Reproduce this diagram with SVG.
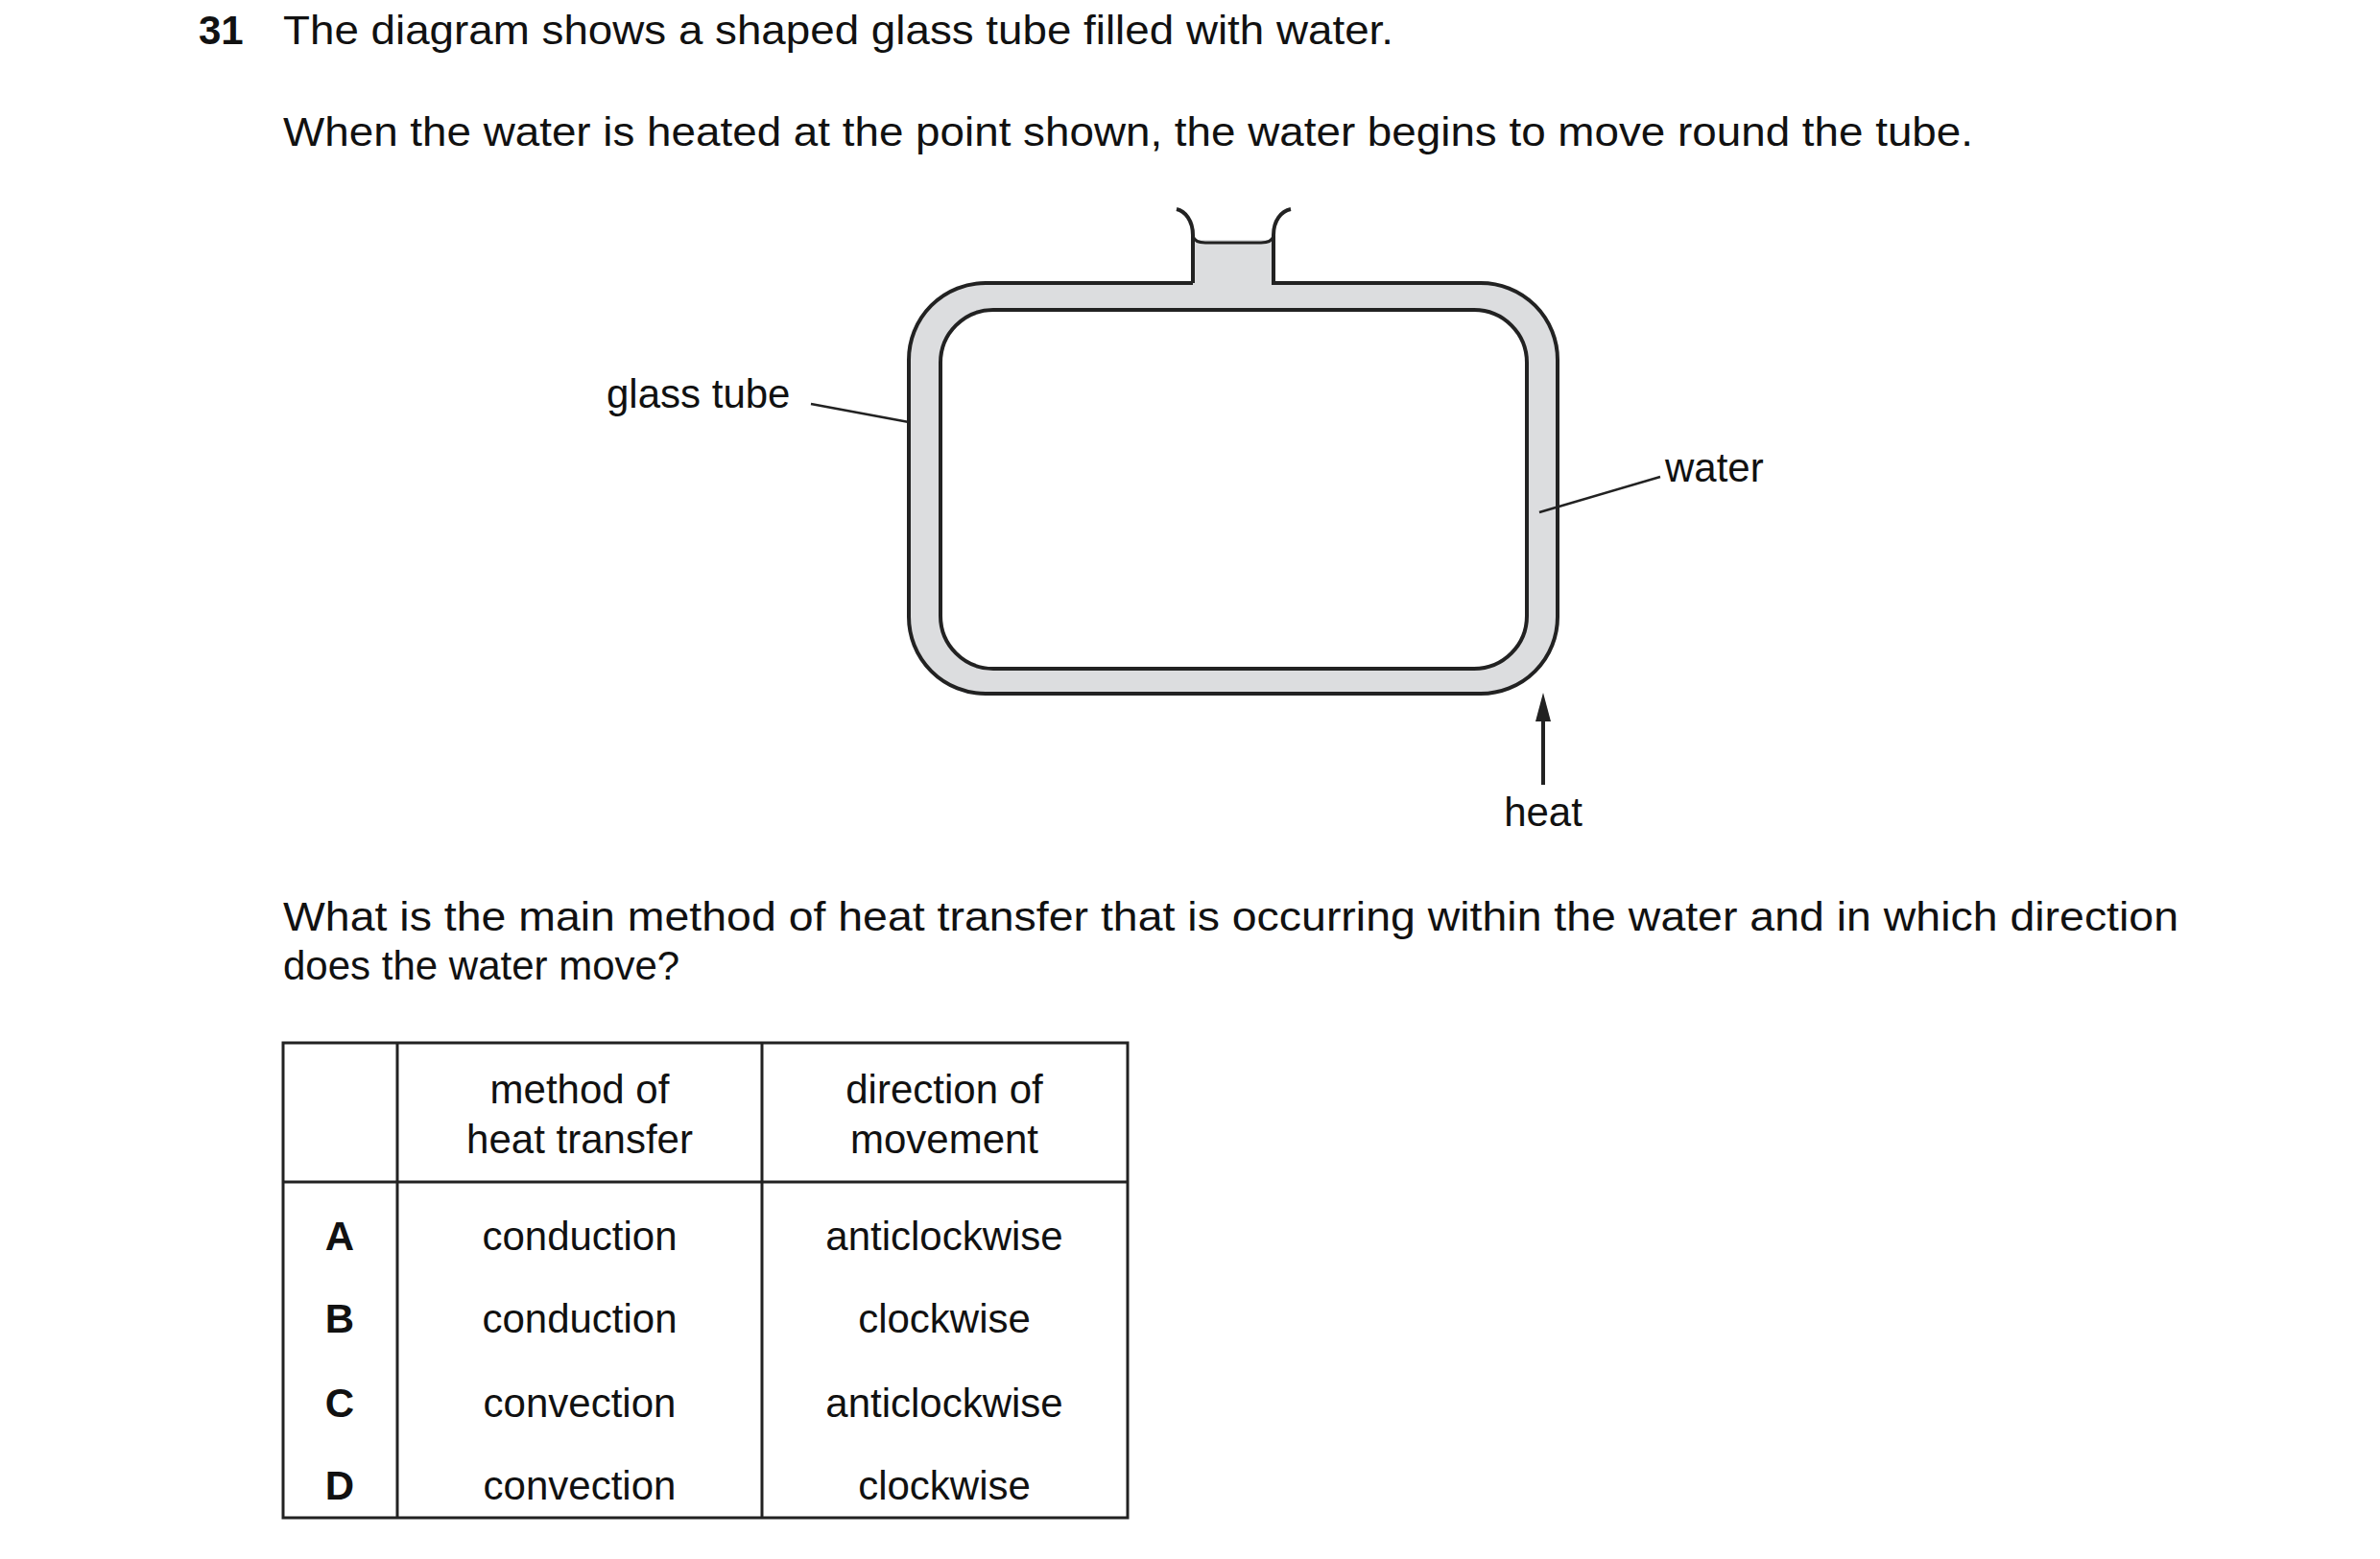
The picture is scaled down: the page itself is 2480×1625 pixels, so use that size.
<svg xmlns="http://www.w3.org/2000/svg" width="2480" height="1625" viewBox="0 0 2480 1625">
<style>
text{font-family:"Liberation Sans",Arial,sans-serif;fill:#111}
.b{font-size:42px}
.t{font-size:42px;text-anchor:middle}
.ln{stroke:#222;stroke-width:2.5;fill:none}
.tb{stroke:#222;stroke-width:3;fill:none}
</style>
<rect width="2480" height="1625" fill="#fff"/>
<text x="207" y="46" class="b" font-weight="bold">31</text>
<text x="295" y="46" class="b" textLength="1157" lengthAdjust="spacingAndGlyphs">The diagram shows a shaped glass tube filled with water.</text>
<text x="295" y="152" class="b" textLength="1761" lengthAdjust="spacingAndGlyphs">When the water is heated at the point shown, the water begins to move round the tube.</text>
<g id="tube">
<path d="M1243,295 H1027 A80,80 0 0 0 947,375 V643 A80,80 0 0 0 1027,723 H1543 A80,80 0 0 0 1623,643 V375 A80,80 0 0 0 1543,295 H1327 V250 H1243 Z" fill="#dcdddf"/>
<path d="M1243,295 H1027 A80,80 0 0 0 947,375 V643 A80,80 0 0 0 1027,723 H1543 A80,80 0 0 0 1623,643 V375 A80,80 0 0 0 1543,295 H1327 V245 C1327,230 1335,220 1345,218" fill="none" stroke="#222" stroke-width="4"/>
<path d="M1243,295 V245 C1243,230 1235,220 1226,218" fill="none" stroke="#222" stroke-width="4"/>
<path d="M1243,246 Q1245,253 1256,253 H1314 Q1325,253 1327,246" fill="none" stroke="#222" stroke-width="3"/>
<rect x="980" y="323" width="611" height="374" rx="55" fill="#fff" stroke="#222" stroke-width="4"/>
</g>
<g id="labels">
<text x="632" y="425" class="b">glass tube</text>
<text x="1735" y="502" class="b">water</text>
<text x="1608" y="861" class="t">heat</text>
</g>
<g id="connectors">
<line x1="845" y1="421" x2="947" y2="440" class="ln"/>
<line x1="1604" y1="534" x2="1730" y2="497" class="ln"/>
<line x1="1608" y1="818" x2="1608" y2="745" stroke="#222" stroke-width="4"/>
<polygon points="1608,722 1600,752 1616,752" fill="#222"/>
</g>
<text x="295" y="970" class="b" textLength="1975" lengthAdjust="spacingAndGlyphs">What is the main method of heat transfer that is occurring within the water and in which direction</text>
<text x="295" y="1021" class="b">does the water move?</text>
<g id="table">
<rect x="295" y="1087" width="880" height="495" class="tb"/>
<line x1="295" y1="1232" x2="1175" y2="1232" class="tb"/>
<line x1="414" y1="1087" x2="414" y2="1582" class="tb"/>
<line x1="794" y1="1087" x2="794" y2="1582" class="tb"/>
<text x="604" y="1150" class="t">method of</text>
<text x="604" y="1202" class="t">heat transfer</text>
<text x="984" y="1150" class="t">direction of</text>
<text x="984" y="1202" class="t">movement</text>
<g font-weight="bold">
<text x="354" y="1303" class="t">A</text>
<text x="354" y="1389" class="t">B</text>
<text x="354" y="1477" class="t">C</text>
<text x="354" y="1563" class="t">D</text>
</g>
<text x="604" y="1303" class="t">conduction</text>
<text x="604" y="1389" class="t">conduction</text>
<text x="604" y="1477" class="t">convection</text>
<text x="604" y="1563" class="t">convection</text>
<text x="984" y="1303" class="t">anticlockwise</text>
<text x="984" y="1389" class="t">clockwise</text>
<text x="984" y="1477" class="t">anticlockwise</text>
<text x="984" y="1563" class="t">clockwise</text>
</g>
</svg>
